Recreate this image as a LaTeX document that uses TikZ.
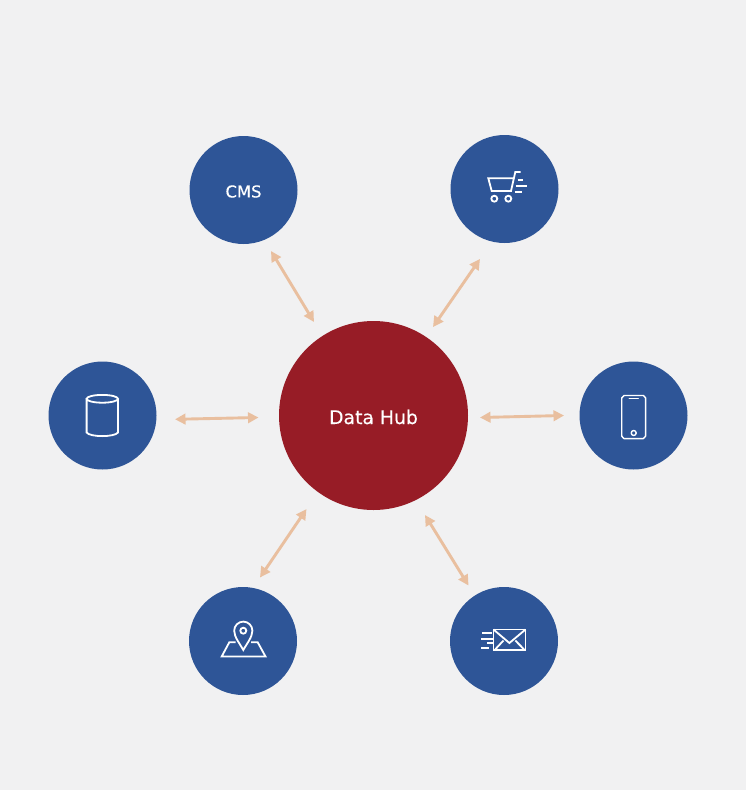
\documentclass[tikz,border=0pt]{standalone}
\usepackage{fontspec}
\setmainfont[FakeBold=0.25]{DejaVu Sans}
\usetikzlibrary{arrows.meta}
\definecolor{bgc}{HTML}{F1F1F2}
\definecolor{bluec}{HTML}{2E5597}
\definecolor{redc}{HTML}{971C26}
\definecolor{arrc}{HTML}{E9BF9F}
\tikzset{
  sat/.style={circle,fill=bluec,minimum size=108pt,inner sep=0pt,text=white,font=\fontsize{16.4pt}{18pt}\selectfont},
  hub/.style={circle,fill=redc,minimum size=189pt,inner sep=0pt,text=white,font=\fontsize{18.8pt}{22pt}\selectfont},
  link/.style={draw=arrc,line width=2.9pt,{Triangle[length=10.5pt,width=10.5pt]}-{Triangle[length=10.5pt,width=10.5pt]}},
  icon/.style={draw=white,line width=1.4pt,line join=round,line cap=round},
  iconb/.style={draw=white,line width=1.8pt,line join=miter}
}
\begin{document}
\begin{tikzpicture}[x=1pt,y=-1pt]
\useasboundingbox (0,0) rectangle (746,790);
\fill[bgc] (0,0) rectangle (746,790);
\node[hub] (hub) at (373.5,415.5) {};
\node[text=white,font=\fontsize{18.8pt}{22pt}\selectfont] (hubtext) at (373.5,417) {Data Hub};
\node[sat] (cms) at (243.5,190) {};
\node[text=white,font=\fontsize{16.4pt}{18pt}\selectfont] (cmstext) at (243.5,191.5) {CMS};
\node[sat] (cart) at (504.5,189) {};
\node[sat] (phone) at (633.5,415.5) {};
\node[sat] (db) at (102.5,415.5) {};
\node[sat] (map) at (243,641) {};
\node[sat] (mail) at (504,641) {};
% connector ends
\coordinate (a1) at (271,251); \coordinate (a2) at (314,322);
\coordinate (b1) at (480,259); \coordinate (b2) at (433,327);
\coordinate (c1) at (175,419.3); \coordinate (c2) at (258.5,417.5);
\coordinate (d1) at (480,417.5); \coordinate (d2) at (564,415.5);
\coordinate (e1) at (306.5,509); \coordinate (e2) at (260,577.5);
\coordinate (f1) at (425,515); \coordinate (f2) at (468.5,585.5);
\draw[link] (a1) -- (a2);
\draw[link] (b1) -- (b2);
\draw[link] (c1) -- (c2);
\draw[link] (d1) -- (d2);
\draw[link] (e1) -- (e2);
\draw[link] (f1) -- (f2);
% cart
\draw[iconb] (520.7,172) -- (515.3,172) -- (511,191) -- (491.7,191) -- (488.3,178.3) -- (513.3,178.3);
\draw[iconb] (494.3,198.7) circle (3);
\draw[iconb] (508.3,198.7) circle (3);
\draw[iconb] (517.7,180) -- (522.7,180);
\draw[iconb] (515.7,186) -- (526.7,186);
\draw[iconb] (514.7,191.7) -- (522.3,191.7);
% mail
\draw[iconb] (493.5,629.5) rectangle (525.5,650);
\draw[iconb] (493.5,629.5) -- (509.4,643) -- (525.5,629.5);
\draw[iconb] (495.3,649.3) -- (503.5,640.5);
\draw[iconb] (524,649.3) -- (515.3,640.5);
\draw[iconb] (482.3,632.7) -- (492.3,632.7);
\draw[iconb] (481,638.7) -- (494.3,638.7);
\draw[iconb] (487,643.3) -- (493,643.3);
\draw[iconb] (481,648) -- (489.3,648);
% map
\draw[iconb] (243.3,650) .. controls (240,644) and (234.2,637) .. (234.2,630.7)
  arc[start angle=180,end angle=360,radius=9.1]
  .. controls (252.4,637) and (246.6,644) .. (243.3,650) -- cycle;
\draw[iconb] (243.3,630.7) circle (3);
\draw[iconb] (235.5,642.3) -- (229.3,642.3) -- (221.7,656.5) -- (265.5,656.5) -- (257.7,642.3) -- (251,642.3);
% phone
\draw[icon] (621.7,397.8) to[out=-90,in=180] (624,395.5) -- (643.3,395.5) to[out=0,in=-90] (645.6,397.8)
  -- (645.6,436.2) to[out=90,in=0] (643.3,438.6) -- (624,438.6) to[out=180,in=90] (621.7,436.2) -- cycle;
\draw[icon] (629.2,398.3) -- (638.2,398.3);
\draw[icon] (633.7,433) circle (2.5);
% database
\draw[iconb] (102.3,398.8) ellipse (15.7 and 3.9);
\draw[iconb] (86.6,398.8) -- (86.6,432.5) .. controls (90,437.3) and (114.6,437.3) .. (118,432.5) -- (118,398.8);
\end{tikzpicture}
\end{document}
